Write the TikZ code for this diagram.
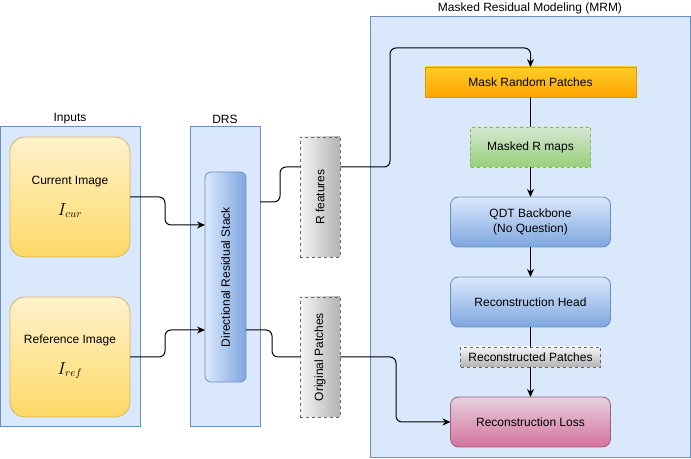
\documentclass[tikz,border=0pt]{standalone}
\usepackage{fontspec}
\setmainfont{Liberation Sans}
\usepackage{graphicx}
\usetikzlibrary{arrows.meta,positioning}

\definecolor{grpfill}{HTML}{DAE8FC}
\definecolor{grpdraw}{HTML}{6C8EBF}
\definecolor{bluebot}{HTML}{7EA6E0}
\definecolor{yeltop}{HTML}{FFF2CC}
\definecolor{yelbot}{HTML}{FFD966}
\definecolor{yeldraw}{HTML}{D6B656}
\definecolor{orgtop}{HTML}{FFCD28}
\definecolor{orgbot}{HTML}{FFA500}
\definecolor{orgdraw}{HTML}{D79B00}
\definecolor{grntop}{HTML}{D5E8D4}
\definecolor{grnbot}{HTML}{97D077}
\definecolor{grndraw}{HTML}{82B366}
\definecolor{tagtop}{HTML}{F5F5F5}
\definecolor{tagbot}{HTML}{B3B3B3}
\definecolor{tagdraw}{HTML}{666666}
\definecolor{pnktop}{HTML}{E6D0DE}
\definecolor{pnkbot}{HTML}{D5739D}
\definecolor{pnkdraw}{HTML}{996185}

\begin{document}
\begin{tikzpicture}[x=1pt, y=1pt, node distance=30pt,
    font=\fontsize{12}{14.5}\selectfont,
    every node/.style={inner sep=0pt, outer sep=0pt},
    group/.style={draw=grpdraw, fill=grpfill, line width=1pt},
    inbox/.style={draw=yeldraw, line width=0.8pt, top color=yeltop, bottom color=yelbot, rounded corners=15pt,
                  minimum width=120pt, minimum height=120pt, align=center},
    stack/.style={draw=grpdraw, line width=0.8pt, left color=grpfill, right color=bluebot, rounded corners=6pt,
                  minimum width=41pt, minimum height=210pt},
    tag/.style={draw=tagdraw, line width=0.8pt, dash pattern=on 3pt off 3pt, left color=tagtop, right color=tagbot,
                minimum width=40pt, minimum height=120pt},
    maskbox/.style={draw=orgdraw, line width=0.8pt, top color=orgtop, bottom color=orgbot,
                    minimum width=211pt, minimum height=30pt},
    mapbox/.style={draw=grndraw, line width=0.8pt, dash pattern=on 3pt off 3pt, top color=grntop, bottom color=grnbot,
                   minimum width=120pt, minimum height=40pt},
    block/.style={draw=grpdraw, line width=0.8pt, top color=grpfill, bottom color=bluebot, rounded corners=8pt,
                  minimum width=160pt, minimum height=50pt, align=center},
    patchbox/.style={draw=tagdraw, line width=0.8pt, dash pattern=on 3pt off 3pt, top color=tagtop, bottom color=tagbot,
                     minimum width=140pt, minimum height=20pt},
    lossbox/.style={draw=pnkdraw, line width=0.8pt, top color=pnktop, bottom color=pnkbot, rounded corners=8pt,
                    minimum width=160pt, minimum height=50pt},
    wire/.style={-, draw=black, line width=1pt, rounded corners=6pt},
    flow/.style={wire, -{Stealth[length=8pt,width=7pt]}}]
  \useasboundingbox (0,0) rectangle (691,458);

  % containers
  \node[group, minimum width=140pt, minimum height=300pt] (In)  at (70.5,181)  {};
  \node[group, minimum width=70pt,  minimum height=300pt] (Drs) at (225,181)   {};
  \node[group, minimum width=320pt, minimum height=440pt] (Mrm) at (530.5,221) {};
  \node (tIn)  at (70,339)  {Inputs};
  \node (tDrs) at (225,339) {DRS};
  \node (tMrm) at (530,450) {Masked Residual Modeling (MRM)};

  \node[inbox] (Cur) at (70,261) {Current Image\\[16pt]{\fontsize{16}{18}\selectfont$I_{cur}$}};
  \node[inbox] (Ref) [below=40pt of Cur] {Reference Image\\[16pt]{\fontsize{16}{18}\selectfont$I_{ref}$}};
  \node[stack] (Stk) at (225.5,181) {\rotatebox{90}{Directional Residual Stack}};
  \node[tag]   (Rf)  at (320,261) {\rotatebox{90}{R features}};
  \node[tag]   (Op)  at (320,101) {\rotatebox{90}{Original Patches}};

  \node[maskbox]  (Mask) at (530.5,376)      {Mask Random Patches};
  \node[mapbox]   (Mr)   [below=of Mask]     {Masked R maps};
  \node[block]    (Qdt)  [below=of Mr]       {QDT Backbone\\(No Question)};
  \node[block]    (Head) [below=of Qdt]      {Reconstruction Head};
  \node[patchbox] (Rp)   [below=20pt of Head] {Reconstructed Patches};
  \node[lossbox]  (Loss) [below=of Rp]       {Reconstruction Loss};

  \draw[flow] (Cur.east) -- ++(35,0) |- ([yshift=52pt]Stk.west);
  \draw[flow] (Ref.east) -- ++(35,0) |- ([yshift=-53pt]Stk.west);
  \draw[wire] ([yshift=75pt]Drs.east) -- ++(20,0) |- ([yshift=30pt]Rf.west);
  \draw[flow] ([yshift=30pt]Rf.east) -| ++(50,119) -| (Mask.north);
  \draw[wire] ([yshift=-53pt]Stk.east) -- ++(26,0) |- (Op.west);
  \draw[flow] (Op.east) -- ++(56,0) |- (Loss.west);

  \path (Mask) edge[wire] (Mr)
        (Mr)   edge[flow] (Qdt)
        (Qdt)  edge[flow] (Head)
        (Head) edge[wire] (Rp)
        (Rp)   edge[flow] (Loss);
\end{tikzpicture}
\end{document}
